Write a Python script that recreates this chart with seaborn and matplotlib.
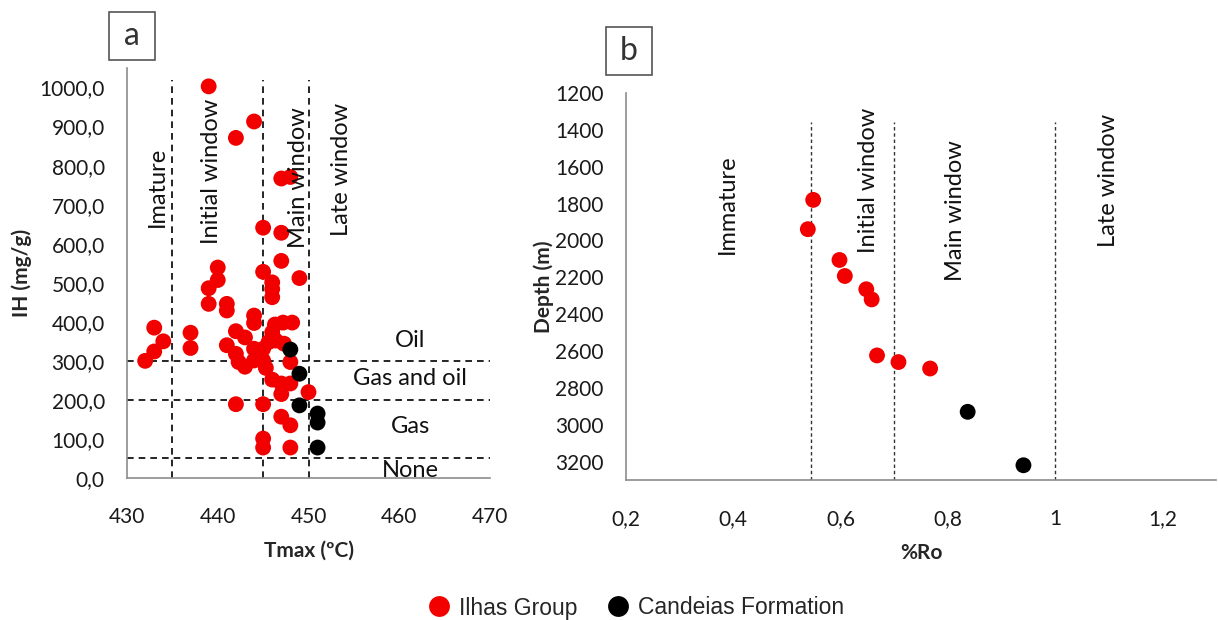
import matplotlib
matplotlib.use("Agg")
import matplotlib.pyplot as plt
from matplotlib.lines import Line2D
from matplotlib.patches import Rectangle
from matplotlib.ticker import MultipleLocator, FuncFormatter
import seaborn as sns
import pandas as pd

# ---- Panel a: Tmax vs hydrogen index (IH) ----
ilhas_tmax = [439, 444, 442, 447, 448, 445, 447, 447, 445, 449, 446, 446, 446,
              440, 440, 439, 439, 441, 441, 444, 444, 446.3, 447.2, 448.2,
              433, 437, 437, 442, 443, 434, 433, 432, 441, 442, 442.3, 443,
              444, 445, 444.5, 444, 445, 445.3, 446, 446.4, 445.6, 447.3, 448,
              446, 447, 448, 447, 450, 442, 445, 447, 448, 445, 445, 448]
ilhas_ih = [1003, 913, 871, 767, 771, 641, 628, 556, 528, 512, 501, 484, 463,
            539, 507, 486, 446, 446, 429, 416, 397, 393, 398, 398,
            385, 372, 333, 376, 360, 350, 324, 300, 340, 318, 297, 285,
            331, 331, 318, 301, 301, 282, 373, 352, 348, 344, 297,
            252, 242, 242, 215, 220, 189, 189, 157, 135, 101, 78, 78]
candeias_tmax = [448, 449, 449, 451, 451, 451]
candeias_ih = [329, 267, 186, 165, 142, 78]

# ---- Panel b: vitrinite reflectance vs depth ----
ilhas_ro = [0.549, 0.539, 0.598, 0.608, 0.648, 0.658, 0.668, 0.708, 0.767]
ilhas_depth = [1780, 1939, 2106, 2193, 2265, 2320, 2624, 2660, 2695]
candeias_ro = [0.837, 0.941]
candeias_depth = [2930, 3220]

groups = ["Ilhas Group", "Candeias Formation"]
colors = {"Ilhas Group": "#f20000", "Candeias Formation": "#000000"}

# maturity limits
tmax_limits = [435, 445, 450]
ih_limits = [300, 200, 50]
ro_limits = [0.545, 0.70, 1.0]

tmax_zone_labels = ["Imature", "Initial window", "Main window", "Late window"]
ih_zone_labels = ["Oil", "Gas and oil", "Gas", "None"]
ro_zone_labels = ["Immature", "Initial window", "Main window", "Late window"]

df_a = pd.DataFrame({
    "Tmax": ilhas_tmax + candeias_tmax,
    "IH": ilhas_ih + candeias_ih,
    "group": [groups[0]] * len(ilhas_tmax) + [groups[1]] * len(candeias_tmax),
})
df_b = pd.DataFrame({
    "Ro": ilhas_ro + candeias_ro,
    "Depth": ilhas_depth + candeias_depth,
    "group": [groups[0]] * len(ilhas_ro) + [groups[1]] * len(candeias_ro),
})

sns.set_theme(style="white")
plt.rcParams["font.family"] = ["Lato", "DejaVu Sans"]

W, H = 1218, 620
fig = plt.figure(figsize=(W / 100, H / 100), dpi=100)
fig.patch.set_facecolor("white")

def px_axes(left, top, right, bottom):
    return fig.add_axes([left / W, 1 - bottom / H, (right - left) / W, (bottom - top) / H])

ax_a = px_axes(127, 68, 490, 478)
ax_b = px_axes(626, 93, 1216, 480)

spine_col = "#8c8c8c"
for ax in (ax_a, ax_b):
    for s in ("top", "right"):
        ax.spines[s].set_visible(False)
    for s in ("left", "bottom"):
        ax.spines[s].set_color(spine_col)
        ax.spines[s].set_linewidth(1.2)
    ax.tick_params(which="both", direction="in", color=spine_col, length=5, width=1,
                   labelsize=15, labelcolor="#1a1a1a")
    ax.tick_params(axis="x", pad=21)
    ax.tick_params(axis="y", pad=16)
    ax.set_facecolor("white")

comma = lambda fmt: FuncFormatter(lambda v, p: (fmt % v).replace(".", ","))

# ---- panel a ----
sns.scatterplot(data=df_a, x="Tmax", y="IH", hue="group", palette=colors,
                s=130, edgecolor="none", legend=False, ax=ax_a, zorder=3)
ax_a.set_xlim(430, 470)
ax_a.set_ylim(0, 1050)
ax_a.xaxis.set_major_locator(MultipleLocator(10))
ax_a.yaxis.set_major_locator(MultipleLocator(100))
ax_a.yaxis.set_minor_locator(MultipleLocator(50))
ax_a.yaxis.set_major_formatter(comma("%.1f"))
ax_a.set_yticks([v for v in range(0, 1001, 100)])
ax_a.set_xlabel("Tmax (ºC)", fontsize=15, fontweight="bold", labelpad=10)
ax_a.set_ylabel("IH (mg/g)", fontsize=15, fontweight="bold", labelpad=5)

for t in tmax_limits:
    ax_a.plot([t, t], [0, 1020], color="black", lw=1.2, ls=(0, (4, 3)), zorder=2)
for v in ih_limits:
    ax_a.axhline(v, color="black", lw=1.2, ls=(0, (4, 3)), zorder=2)

for txt, x, y in zip(tmax_zone_labels, [433.4, 439.3, 448.9, 453.6], [745, 785, 770, 790]):
    ax_a.text(x, y, txt, rotation=90, ha="center", va="center", fontsize=17, color="#111111")
for txt, y in zip(ih_zone_labels, [352, 254, 133, 20]):
    ax_a.text(461.2, y, txt, ha="center", va="center", fontsize=17, color="#111111")

# ---- panel b ----
sns.scatterplot(data=df_b, x="Ro", y="Depth", hue="group", palette=colors,
                s=130, edgecolor="none", legend=False, ax=ax_b, zorder=3)
ax_b.set_xlim(0.2, 1.3)
ax_b.set_ylim(3300, 1200)
ax_b.xaxis.set_major_locator(MultipleLocator(0.2))
ax_b.xaxis.set_minor_locator(MultipleLocator(0.1))
ax_b.xaxis.set_major_formatter(FuncFormatter(lambda v, p: ("%g" % round(v, 1)).replace(".", ",")))
ax_b.yaxis.set_major_locator(MultipleLocator(200))
ax_b.yaxis.set_minor_locator(MultipleLocator(100))
ax_b.yaxis.set_major_formatter(FuncFormatter(lambda v, p: "%d" % v if v <= 3200 else ""))
ax_b.set_xlabel("%Ro", fontsize=15, fontweight="bold", labelpad=10)
ax_b.set_ylabel("Depth (m)", fontsize=15, fontweight="bold", labelpad=1)

for r in ro_limits:
    ax_b.plot([r, r], [3300, 1360], color="#333333", lw=1.0, ls=(0, (2.5, 2)), zorder=2)

for txt, x, y in zip(ro_zone_labels, [0.389, 0.652, 0.815, 1.099], [1805, 1676, 1838, 1676]):
    ax_b.text(x, y, txt, rotation=90, ha="center", va="center", fontsize=17, color="#111111")

# ---- panel tags ----
def panel_tag(letter, cx, cy, w=46, h=48):
    fig.patches.append(Rectangle(((cx - w / 2) / W, 1 - (cy + h / 2) / H), w / W, h / H,
                                 transform=fig.transFigure, fill=False,
                                 edgecolor="#555555", lw=1.2))
    fig.text(cx / W, 1 - cy / H, letter, ha="center", va="center", fontsize=23, color="#333333")

panel_tag("a", 132, 36)
panel_tag("b", 629, 51)

# ---- legend ----
handles = [Line2D([0], [0], marker="o", ls="none", markersize=15,
                  markerfacecolor=colors[g], markeredgecolor="none") for g in groups]
fig.legend(handles, groups, loc="center", bbox_to_anchor=(636 / W, 1 - 608 / H), ncol=2,
           frameon=False, prop={"family": "Liberation Sans", "size": 16.5},
           handlelength=0.95, handletextpad=0.4, columnspacing=1.3, borderpad=0)

fig.savefig("out.png", dpi=100, facecolor="white")
